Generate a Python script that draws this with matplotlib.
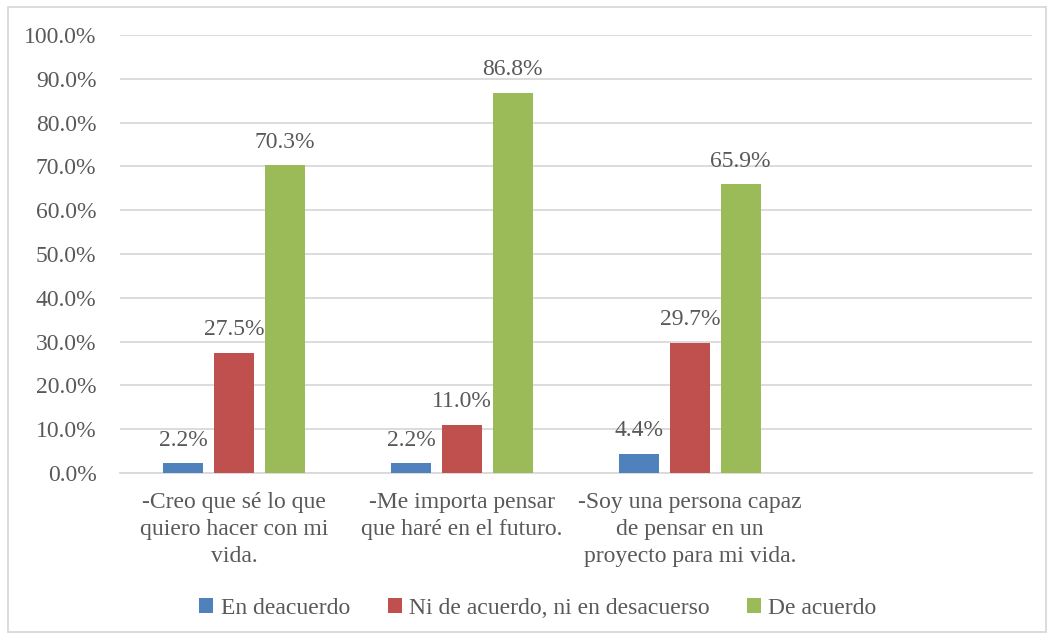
import matplotlib
matplotlib.use("Agg")
import matplotlib.pyplot as plt
import numpy as np
from matplotlib.patches import Rectangle

categories = ["-Creo que sé lo que\nquiero hacer con mi\nvida.",
              "-Me importa pensar\nque haré en el futuro.",
              "-Soy una persona capaz\nde pensar en un\nproyecto para mi vida.",
              ""]
series_names = ["En deacuerdo", "Ni de acuerdo, ni en desacuerso", "De acuerdo"]
en_desacuerdo = [2.2, 2.2, 4.4]
ni_ni = [27.5, 11.0, 29.7]
de_acuerdo = [70.3, 86.8, 65.9]
colors = ["#4F81BD", "#C0504D", "#9BBB59"]
yticks = [0, 10, 20, 30, 40, 50, 60, 70, 80, 90, 100]

plt.rcParams['font.family'] = ['Liberation Serif', 'DejaVu Serif']
txt = "#595959"
fs = 17

fig = plt.figure(figsize=(10.54, 6.39), dpi=100)
ax = fig.add_axes([120/1054, 1 - 473/639, (1032-120)/1054, (473-35)/639])

x = np.arange(len(categories))
w = 0.175
off = 0.222
for i, (vals, name, c) in enumerate(zip([en_desacuerdo, ni_ni, de_acuerdo], series_names, colors)):
    xs = x[:len(vals)] + (i - 1) * off
    bars = ax.bar(xs, vals, width=w, color=c, label=name, zorder=3)
    for b, v in zip(bars, vals):
        ax.annotate(f"{v:.1f}%", (b.get_x() + b.get_width()/2, v), xytext=(0, 9),
                    textcoords="offset points", ha="center", va="bottom",
                    fontsize=fs, color=txt)

ax.set_xlim(-0.5, len(categories) - 0.5)
ax.set_ylim(0, 100)
ax.set_yticks(yticks)
ax.set_yticklabels([f"{t:.1f}%" for t in yticks], fontsize=fs, color=txt)
ax.set_xticks(x)
ax.set_xticklabels(categories, fontsize=fs, color=txt, linespacing=1.35, va="top")
ax.tick_params(axis="both", length=0)
ax.tick_params(axis="x", pad=14)
ax.tick_params(axis="y", pad=17)
ax.grid(axis="y", color="#D9D9D9", linewidth=1.3, zorder=0)
for s in ["top", "right", "left"]:
    ax.spines[s].set_visible(False)
ax.spines["bottom"].set_color("#D9D9D9")
ax.spines["bottom"].set_linewidth(1.3)

leg = fig.legend(loc="center", bbox_to_anchor=(538/1054, 1 - 608/639), ncol=3,
                 frameon=False, fontsize=fs, handlelength=0.6, handleheight=0.6,
                 handletextpad=0.3, columnspacing=1.6, labelcolor=txt)

fig.patches.append(Rectangle((8/1054, 7/639), (1046-8)/1054, (632-7)/639,
                             transform=fig.transFigure, fill=False,
                             edgecolor="#D9D9D9", linewidth=1.3))

fig.savefig("out.png", dpi=100)
